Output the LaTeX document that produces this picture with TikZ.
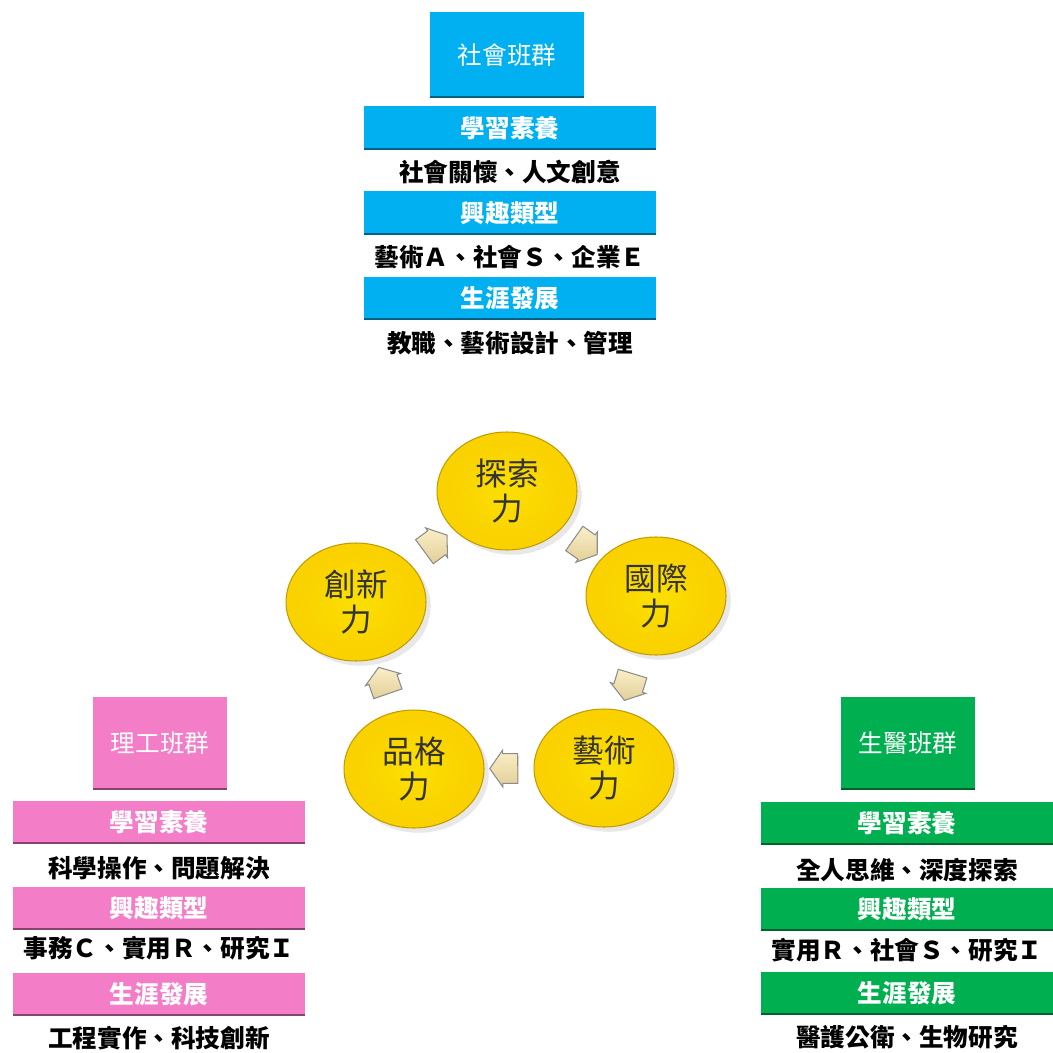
\documentclass[tikz,border=0pt]{standalone}
\usepackage{fontspec}
\setmainfont{Noto Sans CJK TC}
\usetikzlibrary{shapes.geometric,shapes.arrows,shadows}

\definecolor{shehui}{HTML}{00B0F0}
\definecolor{ligong}{HTML}{F47DC8}
\definecolor{shengyi}{HTML}{00B050}
\definecolor{qiuyellow}{HTML}{FAD200}
\definecolor{qiurim}{HTML}{D8AC00}
\definecolor{jiantoulight}{HTML}{FBEFC8}
\definecolor{jiantoudark}{HTML}{E2CF98}

\pgfdeclareradialshading{qiushade}{\pgfpoint{0bp}{0bp}}{%
    color(0bp)=(qiuyellow!70!yellow); color(20bp)=(qiuyellow);
    color(42bp)=(qiuyellow); color(49bp)=(qiurim); color(50bp)=(qiurim)}

\begin{document}
\begin{tikzpicture}[x=0.02cm, y=-0.02cm,
    biaoti/.style={fill=#1, text=white, inner sep=0pt,
        minimum width=2.68cm, minimum height=1.86cm,
        font=\fontsize{14}{16}\selectfont,
        path picture={\draw[line width=2pt, #1!55!black]
            (path picture bounding box.south west) -- (path picture bounding box.south east);}},
    lanmu/.style={fill=#1, text=white, inner sep=0pt,
        minimum width=5.84cm, minimum height=0.86cm,
        font=\bfseries\fontsize{14}{16}\selectfont,
        path picture={\draw[line width=2pt, #1!55!black]
            (path picture bounding box.south west) -- (path picture bounding box.south east);}},
    neirong/.style={text=black, inner sep=0pt, font=\bfseries\fontsize{14}{16}\selectfont},
    nengli/.style={ellipse, minimum width=2.8cm, minimum height=2.36cm,
        shading=qiushade, draw=qiurim!90!black, line width=0.6pt,
        drop shadow={opacity=0.18}, align=center, text=black!80,
        font=\fontsize{18}{20}\selectfont},
    jiantou/.style={single arrow, minimum height=0.56cm, minimum width=0.74cm,
        single arrow head extend=0.07cm, single arrow tip angle=110,
        inner xsep=0pt, inner ysep=0.28cm,
        top color=jiantoulight, bottom color=jiantoudark, draw=black!45, line width=0.6pt}
]
    \useasboundingbox (0,0) rectangle (1052,1053);

    % 社會班群 (上)
    \node[biaoti=shehui, minimum width=3.1cm, minimum height=1.72cm] (shehuiT) at (507,55) {社會班群};
    \node[lanmu=shehui] (shehuiA) at (510,128) {學習素養};
    \node[neirong] (shehuiAt) at (510,172) {社會關懷、人文創意};
    \node[lanmu=shehui] (shehuiB) at (510,213) {興趣類型};
    \node[neirong] (shehuiBt) at (510,257) {藝術Ａ、社會Ｓ、企業Ｅ};
    \node[lanmu=shehui] (shehuiC) at (510,298) {生涯發展};
    \node[neirong] (shehuiCt) at (510,343) {教職、藝術設計、管理};

    % 理工班群 (左下)
    \node[biaoti=ligong] (ligongT) at (160,743) {理工班群};
    \node[lanmu=ligong] (ligongA) at (159,822) {學習素養};
    \node[neirong] (ligongAt) at (159,868) {科學操作、問題解決};
    \node[lanmu=ligong] (ligongB) at (159,908) {興趣類型};
    \node[neirong] (ligongBt) at (159,948) {事務Ｃ、實用Ｒ、研究Ｉ};
    \node[lanmu=ligong] (ligongC) at (159,994) {生涯發展};
    \node[neirong] (ligongCt) at (159,1038) {工程實作、科技創新};

    % 生醫班群 (右下)
    \node[biaoti=shengyi] (shengyiT) at (908,743) {生醫班群};
    \node[lanmu=shengyi] (shengyiA) at (907,823) {學習素養};
    \node[neirong] (shengyiAt) at (907,870) {全人思維、深度探索};
    \node[lanmu=shengyi] (shengyiB) at (907,909) {興趣類型};
    \node[neirong] (shengyiBt) at (907,950) {實用Ｒ、社會Ｓ、研究Ｉ};
    \node[lanmu=shengyi] (shengyiC) at (907,993) {生涯發展};
    \node[neirong] (shengyiCt) at (907,1037) {醫護公衛、生物研究};

    % 五力循環
    \node[nengli] (tansuo) at (507,491) {探索\\力};
    \node[nengli] (guoji) at (656,596) {國際\\力};
    \node[nengli] (yishu) at (604,768) {藝術\\力};
    \node[nengli] (pinge) at (414,769) {品格\\力};
    \node[nengli] (chuangxin) at (356,602) {創新\\力};

    % 箭頭
    \path (tansuo) -- node[jiantou, sloped, allow upside down] (j1) {} (guoji);
    \path (guoji) -- node[jiantou, sloped, allow upside down] (j2) {} (yishu);
    \path (yishu) -- node[jiantou, sloped, allow upside down] (j3) {} (pinge);
    \path (pinge) -- node[jiantou, sloped, allow upside down] (j4) {} (chuangxin);
    \path (chuangxin) -- node[jiantou, sloped, allow upside down] (j5) {} (tansuo);
\end{tikzpicture}
\end{document}
